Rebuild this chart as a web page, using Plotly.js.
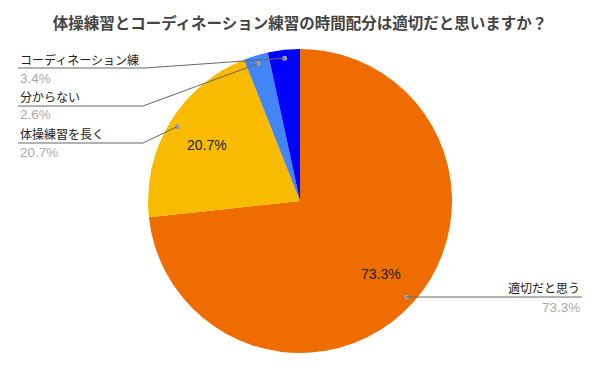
<!DOCTYPE html>
<html><head><meta charset="utf-8">
<script src="https://cdn.plot.ly/plotly-3.0.1.min.js"></script>
<style>body{margin:0;background:#fff}#c{width:600px;height:371px}</style>
</head><body><div id="c"></div>
<script>
const titleText = '体操練習とコーディネーション練習の時間配分は適切だと思いますか？';
const labels = ['適切だと思う', '体操練習を長く', '分からない', 'コーディネーション練'];
const values = [73.3, 20.7, 2.6, 3.4];
const colors = ['#ee6c00', '#f9bb00', '#4285f4', '#0000ff'];

// layout: plot area in pixels
const W = 600, H = 371;
const M = {l: 148, r: 148, t: 49, b: 18};
const pw = W - M.l - M.r, ph = H - M.t - M.b;
const cx = M.l + pw / 2, cy = M.t + ph / 2, R = Math.min(pw, ph) / 2;
const px2x = p => (p - M.l) / pw;
const py2y = p => (H - M.b - p) / ph;

// label placement (layout, not data): side, text center y, line y, pct y, x anchor, bend x
const place = [
  {side: 'right', ty: 287, ly: 297, py: 307, x0: 582},
  {side: 'left', ty: 133, ly: 143, py: 152, x0: 18, bend: 143},
  {side: 'left', ty: 96.5, ly: 106, py: 115, x0: 18, bend: 143},
  {side: 'left', ty: 59, ly: 68, py: 78, x0: 18, bend: 145}
];

const total = values.reduce((a, b) => a + b, 0);
let cum = 0;
const annotations = [], shapes = [];
const font = '"Noto Sans CJK JP", "Liberation Sans", Arial, sans-serif';
const latin = '"Liberation Sans", Arial, sans-serif';
values.forEach((v, i) => {
  const mid = (cum + v / 2) / total * 2 * Math.PI;
  cum += v;
  const pct = (v / total * 100).toFixed(1) + '%';
  const dx = R * 0.945 * Math.sin(mid), dy = -R * 0.945 * Math.cos(mid);
  const dotX = cx + dx, dotY = cy + dy;
  const p = place[i];
  if (v / total > 0.1) {
    annotations.push({xref: 'paper', yref: 'paper', showarrow: false, xanchor: 'center', yanchor: 'middle',
      x: px2x(cx + R * 0.715 * Math.sin(mid)), y: py2y(cy - R * 0.715 * Math.cos(mid)),
      text: pct, font: {family: latin, size: 14, color: '#222'}});
  }
  shapes.push({type: 'circle', xref: 'paper', yref: 'paper',
    x0: px2x(dotX - 2.5), x1: px2x(dotX + 2.5), y0: py2y(dotY + 2.5), y1: py2y(dotY - 2.5),
    fillcolor: '#9e9e9e', line: {width: 0}});
  let path;
  if (p.side === 'right') {
    path = `M ${px2x(dotX)} ${py2y(dotY)} L ${px2x(p.x0)} ${py2y(p.ly)}`;
  } else {
    path = `M ${px2x(dotX)} ${py2y(dotY)} L ${px2x(p.bend)} ${py2y(p.ly)} L ${px2x(p.x0)} ${py2y(p.ly)}`;
  }
  shapes.push({type: 'path', xref: 'paper', yref: 'paper', path: path, line: {color: '#666', width: 1}});
  const anchor = p.side === 'right' ? 'right' : 'left';
  annotations.push({xref: 'paper', yref: 'paper', showarrow: false, xanchor: anchor, yanchor: 'middle',
    x: px2x(p.x0), y: py2y(p.ty), text: labels[i], font: {family: font, size: 12, color: '#222'}});
  annotations.push({xref: 'paper', yref: 'paper', showarrow: false, xanchor: anchor, yanchor: 'middle',
    x: px2x(p.x0), y: py2y(p.py), text: pct, font: {family: latin, size: 13.5, color: '#aaaaaa'}});
});

const data = [{
  type: 'pie', labels: labels, values: values, sort: false, direction: 'clockwise', rotation: 0,
  marker: {colors: colors, line: {width: 0}}, textinfo: 'none', hoverinfo: 'none',
  automargin: false
}];

const layout = {
  width: W, height: H, margin: M, showlegend: false,
  paper_bgcolor: '#fff',
  title: {text: '<b>' + titleText + '</b>', x: 0.5, xanchor: 'center', y: 1 - 24 / H, yanchor: 'middle',
    font: {family: font, size: 15.5, color: '#444'}},
  annotations: annotations, shapes: shapes
};
Plotly.newPlot('c', data, layout, {staticPlot: true});
</script></body></html>
